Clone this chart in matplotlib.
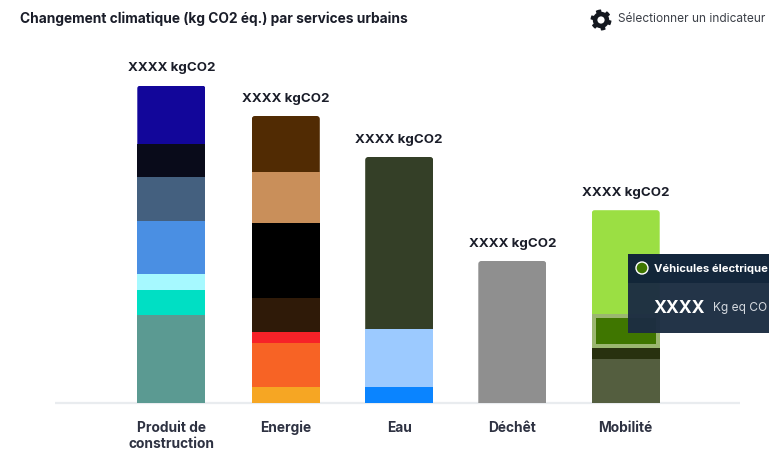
import numpy as np
import matplotlib
matplotlib.use("Agg")
import matplotlib.pyplot as plt
from matplotlib.patches import FancyBboxPatch, PathPatch, Circle, Rectangle
from matplotlib.path import Path

plt.rcParams['font.family'] = ['Inter', 'Liberation Sans', 'DejaVu Sans']

categories = ["Produit de\nconstruction", "Energie", "Eau", "Déchêt", "Mobilité"]
x_pos = [171.3, 285.8, 399.2, 512.3, 625.7]
totals = ["XXXX kgCO2"] * 5

# stacked segments, bottom to top (heights)
produit = [88, 25.5, 15.5, 53, 44, 33.5, 58]
produit_colors = ["#5b9a92", "#00dfc4", "#a6f9ff", "#4a8fe3", "#44607f", "#090b1a", "#12069a"]
energie = [16, 44.5, 11, 33.5, 75, 51, 56]
energie_colors = ["#f6a623", "#f76325", "#f62228", "#2f1a08", "#000000", "#c98f5a", "#512b03"]
eau = [16, 58, 172]
eau_colors = ["#0a84ff", "#9ccaff", "#343f27"]
dechet = [142]
dechet_colors = ["#8f8f8f"]
mobilite = [44.5, 11, 34, 103.3]
mobilite_colors = ["#545e3f", "#28310f", "#9bb770", "#9bdf43"]
stacks = [produit, energie, eau, dechet, mobilite]
stack_colors = [produit_colors, energie_colors, eau_colors, dechet_colors, mobilite_colors]

bar_width = 68
highlight = 26  # hovered segment, drawn inside its halo

fig = plt.figure(figsize=(7.69, 4.69), dpi=100)
ax = fig.add_axes([0, 0, 1, 1])
ax.set_xlim(0, 769)
ax.set_ylim(-66, 403)
ax.axis("off")

# baseline
ax.plot([55, 740], [0, 0], color="#e9ecef", lw=1.6, solid_capstyle="butt", zorder=1)

for xp, vals, cols, name, total in zip(x_pos, stacks, stack_colors, categories, totals):
    bottom = 0
    top = sum(vals)
    for v, c in zip(vals, cols):
        rect = ax.bar(xp, v, bottom=bottom, width=bar_width, color=c, zorder=2, linewidth=0)[0]
        if bottom + v == top:
            # rounded top corners only
            clip = FancyBboxPatch((xp - bar_width / 2, -10), bar_width, top + 10,
                                  boxstyle="round,pad=0,rounding_size=3",
                                  transform=ax.transData, mutation_aspect=1)
            rect.set_clip_path(clip)
        bottom += v
    ax.text(xp, top + 17.4, total, ha="center", va="center", fontsize=9.6,
            fontweight="bold", color="#1a1d29")
    ax.text(xp, -17.5, name, ha="center", va="top", fontsize=9.9, fontweight="bold",
            color="#2e3242", linespacing=1.25)

# hovered segment of Mobilité
ax.bar(x_pos[4], highlight, bottom=sum(mobilite[:2]) + 4, width=60, color="#3f7600", zorder=3, linewidth=0)

# title and indicator selector
ax.text(20, 384.5, "Changement climatique (kg CO2 éq.) par services urbains", ha="left", va="center",
        fontsize=9.9, fontweight="bold", color="#1a1d29")
ax.text(618, 384, "Sélectionner un indicateur", ha="left", va="center", fontsize=8.55, color="#3c4048")

# gear icon
cx, cy = 601, 383
angles = np.linspace(0, 2 * np.pi, 96, endpoint=False)
radius = np.where(((angles + np.pi / 6) % (np.pi / 3)) < np.pi / 6, 10.5, 8.2)
gear = np.column_stack([cx + radius * np.cos(angles), cy + radius * np.sin(angles)])
ax.add_patch(PathPatch(Path(np.vstack([gear, gear[0]])), fc="#14181f", ec="none", zorder=4))
ax.add_patch(Circle((cx, cy), 3.6, fc="white", ec="none", zorder=5))

# tooltip, cut by the right edge
ax.add_patch(Rectangle((628, 403 - 333), 150, 50, fc="#1c2d42", ec="none", alpha=0.97, zorder=6))
ax.add_patch(Rectangle((628, 403 - 283), 150, 29, fc="#0f2238", ec="none", alpha=0.98, zorder=6))
ax.add_patch(Circle((642, 403 - 268), 6, fc="#3f7600", ec="white", lw=1, zorder=7))
ax.text(654, 403 - 268.5, "Véhicules électrique", ha="left", va="center", fontsize=8.1,
        fontweight="bold", color="white", zorder=7)
ax.text(654, 403 - 308, "XXXX", ha="left", va="center", fontsize=12.6, fontweight="bold",
        color="white", zorder=7)
ax.text(713, 403 - 308, "Kg eq CO", ha="left", va="center", fontsize=8.6, color="#d4d9df", zorder=7)

fig.savefig("out.png", dpi=100)
